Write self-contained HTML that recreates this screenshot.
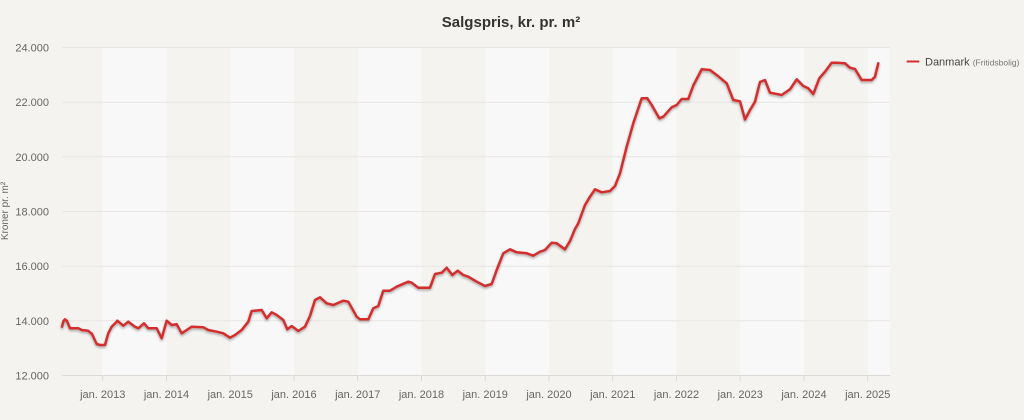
<!DOCTYPE html>
<html>
<head>
<meta charset="utf-8">
<style>
html,body{margin:0;padding:0;background:#f4f3ef;}
body{width:1024px;height:420px;overflow:hidden;font-family:"Liberation Sans",sans-serif;}
svg{display:block;}
</style>
</head>
<body>
<svg width="1024" height="420" viewBox="0 0 1024 420" xmlns="http://www.w3.org/2000/svg">
<defs>
<filter id="sh" x="-5%" y="-10%" width="110%" height="130%">
<feGaussianBlur in="SourceAlpha" stdDeviation="1.2"/>
<feOffset dx="0" dy="1.5" result="b"/>
<feComponentTransfer><feFuncA type="linear" slope="0.35"/></feComponentTransfer>
<feMerge><feMergeNode/><feMergeNode in="SourceGraphic"/></feMerge>
</filter>
</defs>
<rect x="0" y="0" width="1024" height="420" fill="#f4f3ef"/>
<!-- bands (odd years light) -->
<g fill="#f8f8f8">
<rect x="102.7" y="47.5" width="63.75" height="328"/>
<rect x="230.2" y="47.5" width="63.75" height="328"/>
<rect x="357.7" y="47.5" width="63.75" height="328"/>
<rect x="485.2" y="47.5" width="63.75" height="328"/>
<rect x="612.7" y="47.5" width="63.75" height="328"/>
<rect x="740.2" y="47.5" width="63.75" height="328"/>
<rect x="867.7" y="47.5" width="22.3" height="328"/>
</g>
<!-- gridlines -->
<g stroke="#e7e6e2" stroke-width="1">
<line x1="62" x2="890" y1="47.5" y2="47.5"/>
<line x1="62" x2="890" y1="102.2" y2="102.2"/>
<line x1="62" x2="890" y1="156.8" y2="156.8"/>
<line x1="62" x2="890" y1="211.5" y2="211.5"/>
<line x1="62" x2="890" y1="266.2" y2="266.2"/>
<line x1="62" x2="890" y1="320.8" y2="320.8"/>
</g>
<line x1="62" x2="890" y1="375.5" y2="375.5" stroke="#dcdad5" stroke-width="1"/>
<!-- ticks -->
<g stroke="#dcdad5" stroke-width="1">
<line x1="102.7" x2="102.7" y1="375.5" y2="381"/>
<line x1="166.5" x2="166.5" y1="375.5" y2="381"/>
<line x1="230.2" x2="230.2" y1="375.5" y2="381"/>
<line x1="294" x2="294" y1="375.5" y2="381"/>
<line x1="357.7" x2="357.7" y1="375.5" y2="381"/>
<line x1="421.5" x2="421.5" y1="375.5" y2="381"/>
<line x1="485.2" x2="485.2" y1="375.5" y2="381"/>
<line x1="549" x2="549" y1="375.5" y2="381"/>
<line x1="612.7" x2="612.7" y1="375.5" y2="381"/>
<line x1="676.5" x2="676.5" y1="375.5" y2="381"/>
<line x1="740.2" x2="740.2" y1="375.5" y2="381"/>
<line x1="804" x2="804" y1="375.5" y2="381"/>
<line x1="867.7" x2="867.7" y1="375.5" y2="381"/>
</g>
<!-- y labels -->
<g font-size="11" fill="#666" text-anchor="end">
<text x="49" y="51.5">24.000</text>
<text x="49" y="106.2">22.000</text>
<text x="49" y="160.8">20.000</text>
<text x="49" y="215.5">18.000</text>
<text x="49" y="270.2">16.000</text>
<text x="49" y="324.8">14.000</text>
<text x="49" y="379.5">12.000</text>
</g>
<!-- x labels -->
<g font-size="11" fill="#666" text-anchor="middle">
<text x="102.7" y="398">jan. 2013</text>
<text x="166.5" y="398">jan. 2014</text>
<text x="230.2" y="398">jan. 2015</text>
<text x="294" y="398">jan. 2016</text>
<text x="357.7" y="398">jan. 2017</text>
<text x="421.5" y="398">jan. 2018</text>
<text x="485.2" y="398">jan. 2019</text>
<text x="549" y="398">jan. 2020</text>
<text x="612.7" y="398">jan. 2021</text>
<text x="676.5" y="398">jan. 2022</text>
<text x="740.2" y="398">jan. 2023</text>
<text x="804" y="398">jan. 2024</text>
<text x="867.7" y="398">jan. 2025</text>
</g>
<text transform="translate(8,211) rotate(-90)" font-size="10" fill="#666" text-anchor="middle">Kroner pr. m²</text>
<text x="511" y="27" font-size="15" font-weight="bold" fill="#333" text-anchor="middle">Salgspris, kr. pr. m²</text>
<!-- legend -->
<line x1="906.7" x2="919.3" y1="61.5" y2="61.5" stroke="#d32f2f" stroke-width="2"/>
<text x="925" y="65.5" font-size="11" fill="#444">Danmark <tspan font-size="8.5" fill="#777">(Fritidsbolig)</tspan></text>
<!-- series -->
<polyline filter="url(#sh)" fill="none" stroke="#d32f2f" stroke-width="2.5" stroke-linejoin="round" stroke-linecap="round" points="
62,326.7 63.5,321 65,319.3 67,321 70,328.3 78.3,328.3 81.7,330 88,330.7 92,334 96.7,344 100,345 105,345 108.3,333.3 111.7,326.7 116.7,321.7 117.3,320.7 123.3,325.7 128.3,321.7 135,326.7 138.3,328.3 144,323.3 148.3,328.3 156.7,328.3 161.7,338.3 166.7,320.7 171.7,325 176.7,324.3 181.7,333.3 186.7,330 191.7,326.7 203.3,327.3 208.3,330 216.7,331.7 223.3,333.3 230,337.7 235,335 241.7,330 248.3,321.7 251.7,311 261.7,310 266.7,318.3 271.7,312.3 276.7,315 283.3,320 287.3,329.3 291.7,326 298.3,331 305,326.7 310,316 315,300 320,297.3 326.7,303.3 333.3,305 343.3,300.7 348.3,301.7 356.7,316.7 360,319.3 368.3,319.3 373.3,308.3 378.3,306 383.3,290.7 390,290.7 396.7,286.7 408.3,281.7 411.7,282.7 418.3,287.7 430,287.7 435,274 441.7,272.7 446.7,267.7 452.3,275 457.7,270.7 463.3,275 468.3,276.7 476.7,281.7 485,286 491.7,284 496.7,270 503.3,253.3 510,249.3 516.7,252.3 526.7,253.3 533.3,255.7 540,251.7 545,250 551.7,242.7 556.7,243.3 565,249.3 570,241 575,229 578.3,223.3 585,205 590,196.7 595,189.3 601.7,192.3 610,191 615,186 620,173.3 626.7,146.7 633.3,123.3 641.7,98.3 647.3,98.3 651.7,105 659.3,118.3 663.3,116.7 671.7,107.3 676.7,105 681.7,99 688.3,99 693.3,85.5 701.7,69.3 710,70 718.3,76.3 726.7,83.3 733.3,100 740,101.3 745,119.5 750,110 755,101.7 760,82 765,80 770,92.7 781.7,95 790,89.3 796.7,79.3 803.3,86 808.3,88.3 813.3,94 819.3,78.3 825,71.7 831.7,62.7 836.7,62.7 845,63.3 850,67.7 855,69 861.7,80 871.7,80 875,76.7 878.3,63.3"/>
</svg>
</body>
</html>
